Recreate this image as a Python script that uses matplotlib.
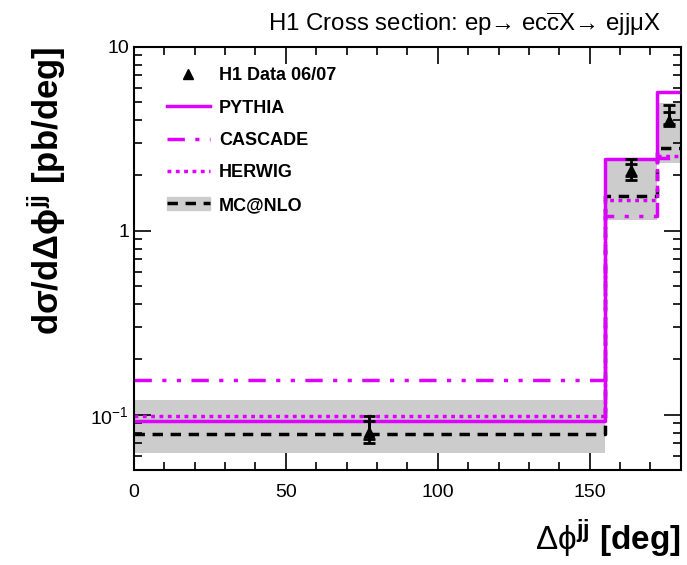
import numpy as np
import matplotlib
matplotlib.use("Agg")
from matplotlib import pyplot as plt
from matplotlib.lines import Line2D
from matplotlib.patches import Patch

# bin edges in delta phi [deg]
edges = [0, 155, 172, 180]

# predictions [pb/deg]
pythia = [0.092, 2.47, 5.65]
cascade = [0.155, 1.21, 2.5]
herwig = [0.099, 1.47, 2.56]
mcnlo = [0.079, 1.54, 2.82]
mcnlo_lo = [0.062, 1.15, 2.35]
mcnlo_hi = [0.12, 2.47, 4.95]

# H1 data
data_x = [77.5, 163.5, 176]
data_y = [0.081, 2.15, 4.0]
stat_lo = [0.074, 1.98, 3.8]
stat_hi = [0.093, 2.3, 4.4]
tot_lo = [0.070, 1.9, 3.7]
tot_hi = [0.099, 2.45, 4.85]

mag = "#dd00ff"
plt.rcParams["font.family"] = ["Liberation Sans", "DejaVu Sans"]
plt.rcParams["mathtext.fontset"] = "custom"
plt.rcParams["mathtext.rm"] = "Liberation Sans"
plt.rcParams["mathtext.it"] = "Liberation Sans"
plt.rcParams["mathtext.bf"] = "Liberation Sans:bold"

fig = plt.figure(figsize=(6.87, 5.65), dpi=100)
ax = fig.add_axes([0.195, 0.168, 0.796, 0.749])


def step(vals):
    return list(vals) + [vals[-1]]


ax.fill_between(edges, step(mcnlo_lo), step(mcnlo_hi), step="post",
                color="#cccccc", lw=0)
ax.step(edges, step(mcnlo), where="post", color="black", lw=2.5,
        ls=(0, (3, 2.2)))
ax.step(edges, step(cascade), where="post", color=mag, lw=2.5,
        ls=(0, (5, 3, 1.2, 3, 1.2, 3)))
ax.step(edges, step(herwig), where="post", color=mag, lw=2.5,
        ls=(0, (1.1, 1.3)))
ax.step(edges, step(pythia), where="post", color=mag, lw=2.5)

dy = np.array(data_y)
ax.errorbar(data_x, data_y,
            yerr=[dy - np.array(tot_lo), np.array(tot_hi) - dy],
            fmt="none", ecolor="black", elinewidth=2, capsize=4, capthick=2)
ax.errorbar(data_x, data_y,
            yerr=[dy - np.array(stat_lo), np.array(stat_hi) - dy],
            fmt="^", color="black", ms=7, elinewidth=2, capsize=4, capthick=2)

ax.set_yscale("log")
ax.set_xlim(0, 180)
ax.set_ylim(0.05, 10)
ax.set_xticks([0, 50, 100, 150])
ax.set_xticks(np.arange(0, 181, 10), minor=True)
ax.set_yticks([0.1, 1, 10])
ax.set_yticklabels([r"$10^{-1}$", "1", "10"])
ax.tick_params(which="both", direction="in", top=True, right=True,
               labelsize=14, width=1.2)
ax.tick_params(which="major", length=12)
ax.tick_params(which="minor", length=6)
ax.tick_params(axis="x", pad=10)
for s in ax.spines.values():
    s.set_linewidth(1.5)

ax.set_ylabel(r"d$\mathbf{\sigma}$/d$\mathbf{\Delta\phi^{jj}}$ [pb/deg]",
              fontsize=25, fontweight="bold", loc="top", labelpad=16)
ax.set_xlabel(r"$\mathrm{\Delta\phi}^{\mathbf{jj}}$ [deg]", fontsize=24,
              fontweight="bold", loc="right", labelpad=12)
fig.text(0.39, 0.958,
         r"H1 Cross section: ep→ ec$\overline{\rm c}$X→ ejjμX",
         fontsize=17.3, va="center")

handles = [
    Line2D([], [], ls="none", marker="^", color="black", ms=7),
    Line2D([], [], color=mag, lw=2.5),
    Line2D([], [], color=mag, lw=2.5, ls=(0, (5, 3, 1.2, 3, 1.2, 3))),
    Line2D([], [], color=mag, lw=2.5, ls=(0, (1.1, 1.3))),
    (Patch(color="#cccccc"), Line2D([], [], color="black", lw=2.5, ls=(0, (3, 2.2)))),
]
labels = ["H1 Data 06/07", "PYTHIA", "CASCADE", "HERWIG", "MC@NLO"]
ax.legend(handles, labels, loc="upper left", bbox_to_anchor=(0.03, 0.99),
          frameon=False, prop={"weight": "bold", "size": 13},
          handlelength=2.4, labelspacing=0.85, handletextpad=0.5)

fig.savefig("out.png", dpi=100)
